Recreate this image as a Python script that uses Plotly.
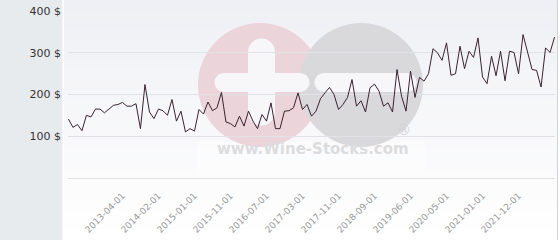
import plotly.graph_objects as go

dates = [
    "2012-04-01", "2012-05-01", "2012-06-01", "2012-07-01", "2012-08-01", "2012-09-01",
    "2012-10-01", "2012-11-01", "2012-12-01", "2013-01-01", "2013-02-01", "2013-03-01",
    "2013-04-01", "2013-05-01", "2013-06-01", "2013-08-01", "2013-09-01", "2013-10-01",
    "2013-11-01", "2014-01-01", "2014-02-01", "2014-03-01", "2014-05-01", "2014-06-01",
    "2014-08-01", "2014-09-01", "2014-10-01", "2014-12-01", "2015-01-01", "2015-02-01",
    "2015-03-01", "2015-05-01", "2015-06-01", "2015-07-01", "2015-08-01", "2015-10-01",
    "2015-11-01", "2015-12-01", "2016-01-01", "2016-02-01", "2016-03-01", "2016-04-01",
    "2016-05-01", "2016-06-01", "2016-07-01", "2016-08-01", "2016-09-01", "2016-10-01",
    "2016-11-01", "2016-12-01", "2017-01-01", "2017-02-01", "2017-03-01", "2017-04-01",
    "2017-05-01", "2017-06-01", "2017-07-01", "2017-08-01", "2017-09-01", "2017-10-01",
    "2017-11-01", "2017-12-01", "2018-01-01", "2018-02-01", "2018-04-01", "2018-05-01",
    "2018-06-01", "2018-08-01", "2018-09-01", "2018-10-01", "2018-11-01", "2018-12-01",
    "2019-01-01", "2019-02-01", "2019-04-01", "2019-05-01", "2019-06-01", "2019-07-01",
    "2019-09-01", "2019-10-01", "2019-12-01", "2020-01-01", "2020-02-01", "2020-04-01",
    "2020-05-01", "2020-06-01", "2020-07-01", "2020-08-01", "2020-09-01", "2020-10-01",
    "2020-11-01", "2020-12-01", "2021-01-01", "2021-02-01", "2021-04-01", "2021-05-01",
    "2021-06-01", "2021-08-01", "2021-09-01", "2021-10-01", "2021-12-01", "2022-01-01",
    "2022-02-01", "2022-03-01", "2022-04-01", "2022-05-01", "2022-06-01", "2022-07-01",
    "2022-08-01",
]

prices = [
    141, 121, 128, 113, 150, 146, 165, 165, 156, 164, 174, 176,
    181, 172, 172, 178, 118, 224, 158, 142, 165, 161, 150, 188,
    136, 160, 110, 118, 112, 164, 153, 182, 161, 168, 205, 134,
    130, 122, 148, 124, 160, 136, 118, 152, 136, 180, 118, 118,
    160, 161, 168, 204, 164, 176, 148, 160, 190, 204, 217, 200,
    164, 176, 193, 236, 172, 185, 158, 216, 225, 208, 172, 180,
    158, 260, 196, 160, 256, 193, 241, 232, 250, 310, 300, 282,
    324, 246, 250, 316, 262, 304, 289, 336, 242, 226, 292, 245,
    304, 233, 304, 301, 250, 344, 301, 260, 258, 218, 312, 301,
    338,
]

tick_labels = [
    "2013-04-01", "2014-02-01", "2015-01-01", "2015-11-01", "2016-07-01", "2017-03-01",
    "2017-11-01", "2018-09-01", "2019-06-01", "2020-05-01", "2021-01-01", "2021-12-01",
]

y_ticks = [0, 100, 200, 300, 400]
y_tick_text = ["", "100 $", "200 $", "300 $", "400 $"]

W, H = 560, 240
L, R, T, B = 68, 555, 11, 178


def px(x):
    return (x - L) / (R - L)


def py(y):
    return (B - y) / (B - T)


shapes = []
# left panel
shapes.append(dict(type="rect", xref="paper", yref="paper", x0=px(0), x1=px(62.5),
                   y0=py(H), y1=py(0), fillcolor="#e7ebee", line_width=0, layer="below"))
# gradient background
nb = 24
for i in range(nb):
    y0 = i * H / nb
    y1 = (i + 1) * H / nb
    t = i / (nb - 1)
    c0 = (239, 240, 245)
    c1 = (255, 255, 255)
    c = tuple(int(round(c0[k] + (c1[k] - c0[k]) * t)) for k in range(3))
    shapes.append(dict(type="rect", xref="paper", yref="paper", x0=px(64), x1=px(557),
                       y0=py(y1), y1=py(y0), fillcolor="rgb(%d,%d,%d)" % c,
                       line_width=0, layer="below"))
# right border
shapes.append(dict(type="line", xref="paper", yref="paper", x0=px(557.5), x1=px(557.5),
                   y0=py(H), y1=py(0), line=dict(color="#cfd3d6", width=1), layer="below"))
# watermark box behind text
shapes.append(dict(type="rect", xref="paper", yref="paper", x0=px(197), x1=px(425),
                   y0=py(175), y1=py(142), fillcolor="rgba(255,255,255,0.35)",
                   line_width=0, layer="below"))


def circle(cx, cy, r, color):
    return dict(type="circle", xref="paper", yref="paper", x0=px(cx - r), x1=px(cx + r),
                y0=py(cy + r), y1=py(cy - r), fillcolor=color, line_width=0, layer="below")


def rect(x0, x1, y0, y1, color):
    return dict(type="rect", xref="paper", yref="paper", x0=px(x0), x1=px(x1),
                y0=py(y1), y1=py(y0), fillcolor=color, line_width=0, layer="below")


pink = "#ebd4da"
gray = "#d9d9db"
white = "#f7f7fa"
shapes.append(circle(260, 85, 62, pink))
shapes.append(circle(361, 85, 62, gray))
# plus
shapes.append(rect(224, 300, 73, 92, white))
shapes.append(circle(224, 82.5, 9.5, white))
shapes.append(circle(300, 82.5, 9.5, white))
shapes.append(rect(248, 275, 52, 112, white))
shapes.append(circle(261.5, 52, 13.5, white))
shapes.append(circle(261.5, 112, 13.5, white))
# minus
shapes.append(rect(324, 407, 73, 92, white))
shapes.append(circle(324, 82.5, 9.5, white))
shapes.append(circle(407, 82.5, 9.5, white))

annotations = [
    dict(text="<b>www.Wine-Stocks.com</b>", xref="paper", yref="paper",
         x=px(313), y=py(160), showarrow=False,
         font=dict(family="DejaVu Sans", size=15, color="#dcdcde")),
    dict(text="®", xref="paper", yref="paper", x=px(413), y=py(140), showarrow=False,
         font=dict(family="DejaVu Sans", size=14, color="#d2d2d4")),
]

fig = go.Figure()
fig.add_trace(go.Scatter(x=dates, y=prices, mode="lines",
                         line=dict(color="#3a2230", width=1), hoverinfo="x+y"))

fig.update_layout(
    width=W, height=H,
    margin=dict(l=L, r=W - R, t=T, b=H - B),
    paper_bgcolor="#ffffff",
    plot_bgcolor="rgba(0,0,0,0)",
    showlegend=False,
    shapes=shapes,
    annotations=annotations,
    font=dict(family="DejaVu Sans"),
)
fig.update_xaxes(
    type="category", range=[-0.1, len(dates) - 0.9],
    tickvals=tick_labels, ticktext=tick_labels, tickangle=-45,
    tickfont=dict(size=9, color="#9a9a9a", family="DejaVu Sans"),
    showgrid=False, showline=True, linecolor="#e1e2e6", linewidth=1,
    zeroline=False, ticks="", ticklabelstandoff=8,
)
fig.update_yaxes(
    range=[-0.6, 400.6], tickvals=y_ticks, ticktext=y_tick_text,
    tickfont=dict(size=11, color="#333333", family="DejaVu Sans"),
    gridcolor="#e1e2e6", gridwidth=1, zeroline=False, showline=False,
    ticks="", ticklabelstandoff=6,
)

fig.write_html("out.html")
